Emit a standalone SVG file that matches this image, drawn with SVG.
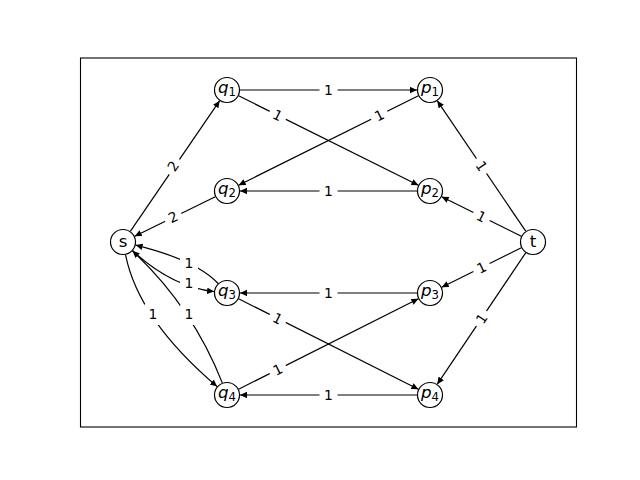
<svg xmlns="http://www.w3.org/2000/svg" width="640" height="480" viewBox="0 0 640 480">
<style>
.e{fill:none;stroke:#000;stroke-width:1.2;marker-end:url(#ah)}
.n circle{fill:#fff;stroke:#000;stroke-width:1.2}
text{font-family:"DejaVu Sans","Liberation Sans",sans-serif;fill:#000}
.el text{font-size:13.9px;text-anchor:middle}
.nt{font-size:16.7px;text-anchor:middle}
.it{font-style:italic}
.sub{font-size:11.7px}
</style>
<defs>
<marker id="ah" markerUnits="userSpaceOnUse" markerWidth="10" markerHeight="8" refX="7" refY="3.2" orient="auto">
<path d="M0,0 L7,3.2 L0,6.4 z" fill="#000"/>
</marker>
<rect id="lb" x="-9" y="-11" width="18" height="22" rx="4" fill="#fff"/>
</defs>
<rect x="80.5" y="58" width="496" height="369" fill="none" stroke="#000" stroke-width="1.1"/>
<g id="edges">
<line class="e" x1="130.3" y1="231.3" x2="219.7" y2="100.7"/>
<line class="e" x1="215.3" y1="196.7" x2="134.7" y2="236.3"/>
<line class="e" x1="240" y1="90" x2="417" y2="90"/>
<line class="e" x1="238.6" y1="95.8" x2="418.4" y2="185.2"/>
<line class="e" x1="418.4" y1="95.8" x2="238.6" y2="185.2"/>
<line class="e" x1="417" y1="191" x2="240" y2="191"/>
<line class="e" x1="417" y1="293" x2="240" y2="293"/>
<line class="e" x1="238.6" y1="298.8" x2="418.4" y2="389.2"/>
<line class="e" x1="238.6" y1="389.2" x2="418.4" y2="298.8"/>
<line class="e" x1="417" y1="395" x2="240" y2="395"/>
<line class="e" x1="525.7" y1="231.2" x2="437.3" y2="100.8"/>
<line class="e" x1="521.3" y1="236.2" x2="441.7" y2="196.8"/>
<line class="e" x1="521.3" y1="247.8" x2="441.7" y2="287.2"/>
<line class="e" x1="525.7" y1="252.8" x2="437.3" y2="384.2"/>
<path class="e" d="M132.6,250.8 Q172,287 214.1,291.6"/>
<path class="e" d="M218.1,283.5 Q196,260 135.6,245.1"/>
<path class="e" d="M125.5,254.7 Q138.6,320 217.1,386.6"/>
<path class="e" d="M222.3,382.9 Q192.5,307 132.5,250.9"/>
</g>
<g id="edge-labels" class="el">
<g transform="translate(173,166) rotate(-55.6)"><use href="#lb"/><text y="5">2</text></g>
<g transform="translate(173,217) rotate(-26.1)"><use href="#lb"/><text y="5">2</text></g>
<g transform="translate(328.5,90)"><use href="#lb"/><text y="5">1</text></g>
<g transform="translate(277.75,115.25) rotate(26.45)"><use href="#lb"/><text y="5">1</text></g>
<g transform="translate(379.25,115.25) rotate(-26.45)"><use href="#lb"/><text y="5">1</text></g>
<g transform="translate(328.5,191)"><use href="#lb"/><text y="5">1</text></g>
<g transform="translate(328.5,293)"><use href="#lb"/><text y="5">1</text></g>
<g transform="translate(277.75,318.5) rotate(26.7)"><use href="#lb"/><text y="5">1</text></g>
<g transform="translate(277.75,369.5) rotate(-26.7)"><use href="#lb"/><text y="5">1</text></g>
<g transform="translate(328.5,395)"><use href="#lb"/><text y="5">1</text></g>
<g transform="translate(481.5,166) rotate(55.9)"><use href="#lb"/><text y="5">1</text></g>
<g transform="translate(481.5,216.5) rotate(26.3)"><use href="#lb"/><text y="5">1</text></g>
<g transform="translate(481.5,267.5) rotate(-26.3)"><use href="#lb"/><text y="5">1</text></g>
<g transform="translate(481.5,318.5) rotate(-56)"><use href="#lb"/><text y="5">1</text></g>
<g transform="translate(189,283)"><use href="#lb"/><text y="5">1</text></g>
<g transform="translate(189,263)"><use href="#lb"/><text y="5">1</text></g>
<g transform="translate(153,314)"><use href="#lb"/><text y="5">1</text></g>
<g transform="translate(189,314)"><use href="#lb"/><text y="5">1</text></g>
</g>
<g id="node-s" class="n"><circle cx="123" cy="242" r="12.5"/><text class="nt" x="123" y="246.5">s</text></g>
<g id="node-t" class="n"><circle cx="533" cy="242" r="12.5"/><text class="nt" x="533" y="246.5">t</text></g>
<g id="node-q1" class="n"><circle cx="227" cy="90" r="12.5"/><text class="nt" x="227" y="93"><tspan class="it">q</tspan><tspan class="sub" dy="2.8">1</tspan></text></g>
<g id="node-q2" class="n"><circle cx="227" cy="191" r="12.5"/><text class="nt" x="227" y="194"><tspan class="it">q</tspan><tspan class="sub" dy="2.8">2</tspan></text></g>
<g id="node-q3" class="n"><circle cx="227" cy="293" r="12.5"/><text class="nt" x="227" y="296"><tspan class="it">q</tspan><tspan class="sub" dy="2.8">3</tspan></text></g>
<g id="node-q4" class="n"><circle cx="227" cy="395" r="12.5"/><text class="nt" x="227" y="398"><tspan class="it">q</tspan><tspan class="sub" dy="2.8">4</tspan></text></g>
<g id="node-p1" class="n"><circle cx="430" cy="90" r="12.5"/><text class="nt" x="430" y="93"><tspan class="it">p</tspan><tspan class="sub" dy="2.8">1</tspan></text></g>
<g id="node-p2" class="n"><circle cx="430" cy="191" r="12.5"/><text class="nt" x="430" y="194"><tspan class="it">p</tspan><tspan class="sub" dy="2.8">2</tspan></text></g>
<g id="node-p3" class="n"><circle cx="430" cy="293" r="12.5"/><text class="nt" x="430" y="296"><tspan class="it">p</tspan><tspan class="sub" dy="2.8">3</tspan></text></g>
<g id="node-p4" class="n"><circle cx="430" cy="395" r="12.5"/><text class="nt" x="430" y="398"><tspan class="it">p</tspan><tspan class="sub" dy="2.8">4</tspan></text></g>
</svg>
